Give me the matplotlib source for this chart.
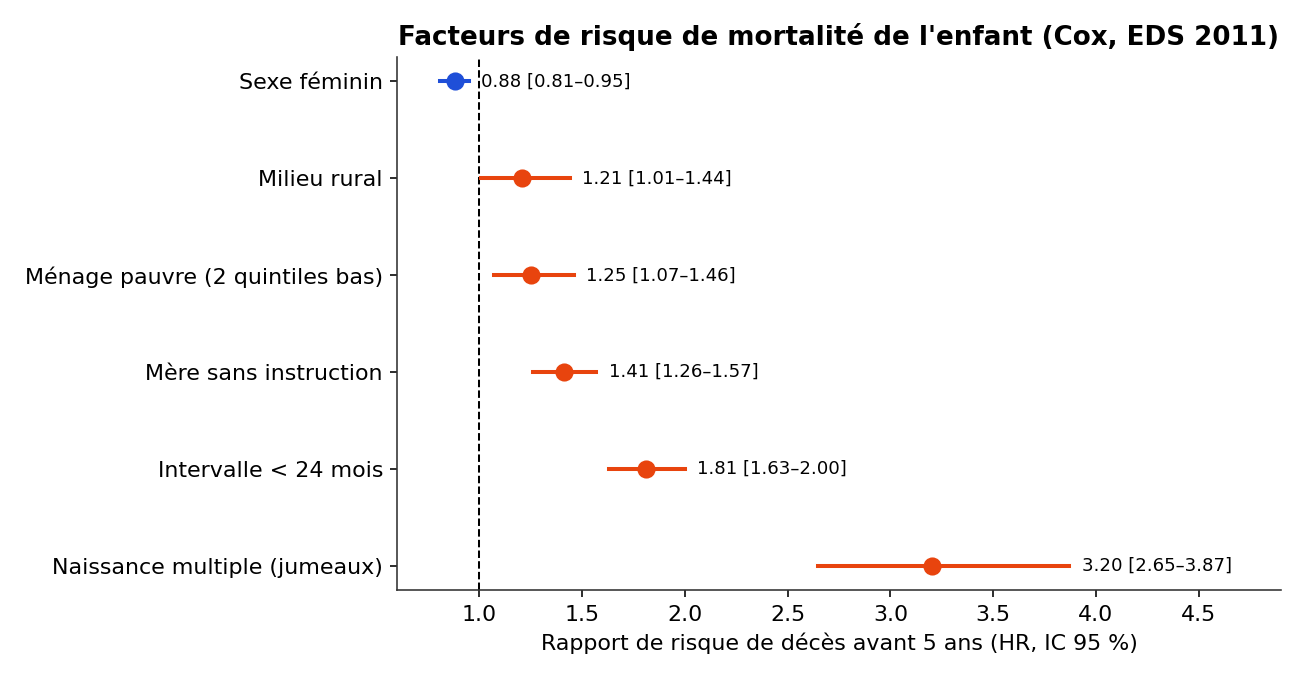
import numpy as np
import matplotlib
matplotlib.use('Agg')
import matplotlib.pyplot as plt

facteurs = ['Sexe féminin', 'Milieu rural', 'Ménage pauvre (2 quintiles bas)',
            'Mère sans instruction', 'Intervalle < 24 mois', 'Naissance multiple (jumeaux)']
hr = [0.88, 1.21, 1.25, 1.41, 1.81, 3.20]
ic_bas = [0.81, 1.01, 1.07, 1.26, 1.63, 2.65]
ic_haut = [0.95, 1.44, 1.46, 1.57, 2.00, 3.87]

bleu, orange = '#1f4fd8', '#e8440e'

fig, ax = plt.subplots(figsize=(9, 4.7), dpi=145)
y = np.arange(len(facteurs))
for i in y:
    c = bleu if hr[i] < 1 else orange
    ax.plot([ic_bas[i], ic_haut[i]], [i, i], color=c, lw=2, zorder=2)
    ax.plot(hr[i], i, 'o', color=c, ms=8, zorder=3)
    ax.text(ic_haut[i] + 0.06, i, f'{hr[i]:.2f} [{ic_bas[i]:.2f}–{ic_haut[i]:.2f}]',
            va='center', ha='left', fontsize=9)

ax.axvline(1.0, color='black', lw=1, ls='--', zorder=1)
ax.set_yticks(y)
ax.set_yticklabels(facteurs, fontsize=11)
ax.set_ylim(len(facteurs) - 0.75, -0.25)
ax.set_xlim(0.6, 4.9)
ax.set_xticks(np.arange(1.0, 4.6, 0.5))
ax.tick_params(axis='x', labelsize=11)
ax.set_xlabel('Rapport de risque de décès avant 5 ans (HR, IC 95 %)', fontsize=11)
ax.set_title("Facteurs de risque de mortalité de l'enfant (Cox, EDS 2011)", fontsize=13, fontweight='bold')
for s in ['top', 'right']:
    ax.spines[s].set_visible(False)
for s in ['left', 'bottom']:
    ax.spines[s].set_color('#333333')
fig.subplots_adjust(left=397/1305, right=1281/1305, top=1-57/681, bottom=1-590/681)
fig.savefig('out.png')
